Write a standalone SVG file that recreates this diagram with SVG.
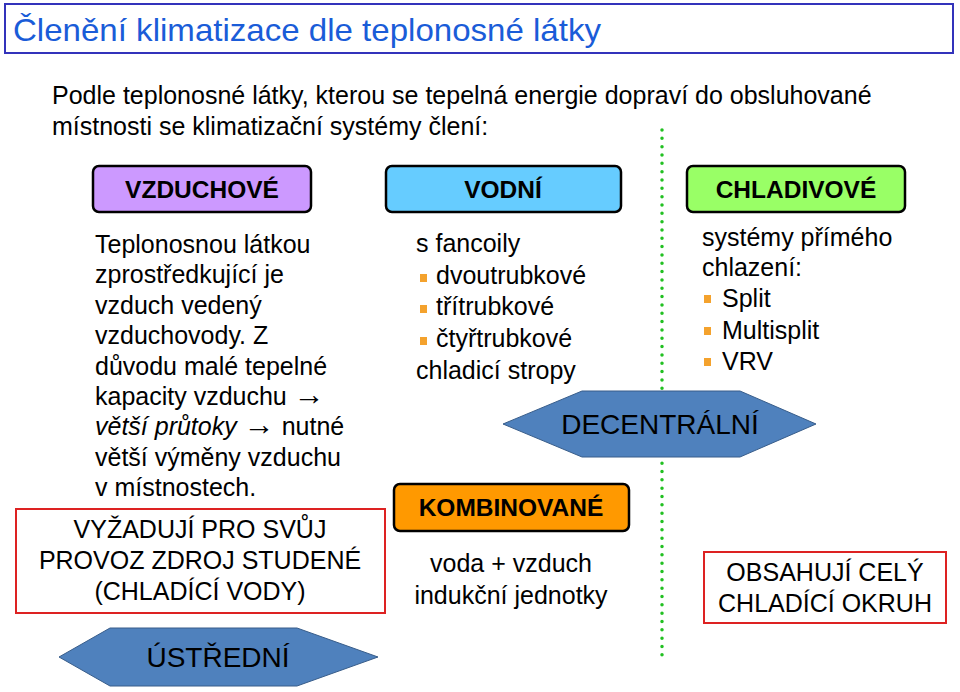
<svg xmlns="http://www.w3.org/2000/svg" width="960" height="692" viewBox="0 0 960 692">
<style>
text{font-family:"Liberation Sans",Arial,sans-serif;fill:#000}
.t{font-size:25px}
.hdr{font-size:24.5px;font-weight:bold;text-anchor:middle}
.box{stroke:#000;stroke-width:2.5}
.red{fill:#fff;stroke:#dd2222;stroke-width:2}
.hex{fill:#4f81bd;stroke:#385d8a;stroke-width:1}
.big{font-size:28px;text-anchor:middle}
.c{text-anchor:middle}
.b{fill:#f4a22d}
.ar{font-size:31px}
</style>
<rect width="960" height="692" fill="#fff"/>
<g id="title">
<rect x="5" y="4" width="948" height="49" fill="#fff" stroke="#3333bb" stroke-width="2"/>
<text x="13" y="41" style="font-size:32px;fill:#1a5cd8" textLength="588" lengthAdjust="spacingAndGlyphs">Členění klimatizace dle teplonosné látky</text>
</g>
<g id="intro">
<text x="52" y="104" class="t">Podle teplonosné látky, kterou se tepelná energie dopraví do obsluhované</text>
<text x="52" y="135" class="t">místnosti se klimatizační systémy člení:</text>
</g>
<g id="connectors">
<line x1="662" y1="130" x2="662" y2="662" stroke="#22c022" stroke-width="3.5" stroke-linecap="round" stroke-dasharray="0 8.33"/>
</g>
<g id="vzduchove">
<rect x="93" y="166" width="218" height="46" rx="6" fill="#cc99ff" class="box"/>
<text x="202" y="198" class="hdr">VZDUCHOVÉ</text>
</g>
<g id="vodni">
<rect x="386" y="166" width="235" height="46" rx="6" fill="#66ccff" class="box"/>
<text x="503" y="198" class="hdr">VODNÍ</text>
</g>
<g id="chladivove">
<rect x="687" y="166" width="218" height="46" rx="6" fill="#99ff66" class="box"/>
<text x="796" y="198" class="hdr">CHLADIVOVÉ</text>
</g>
<g id="vzduchove-text">
<text x="95" y="253" class="t">Teplonosnou látkou</text>
<text x="95" y="283.4" class="t">zprostředkující je</text>
<text x="95" y="313.8" class="t">vzduch vedený</text>
<text x="95" y="344.2" class="t">vzduchovody. Z</text>
<text x="95" y="374.6" class="t">důvodu malé tepelné</text>
<text x="95" y="405" class="t">kapacity vzduchu <tspan class="ar">→</tspan></text>
<text x="95" y="435.4" class="t"><tspan font-style="italic">větší průtoky</tspan> <tspan class="ar">→</tspan>  nutné</text>
<text x="95" y="465.8" class="t">větší výměny vzduchu</text>
<text x="95" y="496.2" class="t">v místnostech.</text>
</g>
<g id="vodni-text">
<text x="416" y="252" class="t">s fancoily</text>
<rect x="420" y="274" width="7" height="8" class="b"/>
<text x="436" y="284" class="t">dvoutrubkové</text>
<rect x="420" y="305" width="7" height="8" class="b"/>
<text x="436" y="315" class="t">třítrubkové</text>
<rect x="420" y="337" width="7" height="8" class="b"/>
<text x="436" y="347" class="t">čtyřtrubkové</text>
<text x="416" y="379" class="t">chladicí stropy</text>
</g>
<g id="chladivove-text">
<text x="702" y="246" class="t">systémy přímého</text>
<text x="702" y="276" class="t">chlazení:</text>
<rect x="704" y="295" width="7" height="8" class="b"/>
<text x="722" y="307" class="t">Split</text>
<rect x="704" y="327" width="7" height="8" class="b"/>
<text x="722" y="339" class="t">Multisplit</text>
<rect x="704" y="358" width="7" height="8" class="b"/>
<text x="722" y="370" class="t">VRV</text>
</g>
<g id="decentralni">
<polygon points="503,424 582,391 740,391 816,424 740,457 582,457" class="hex"/>
<text x="660" y="434" class="big">DECENTRÁLNÍ</text>
</g>
<g id="kombinovane">
<rect x="394" y="484" width="235" height="47" rx="6" fill="#ff9900" class="box"/>
<text x="511" y="516" class="hdr">KOMBINOVANÉ</text>
<text x="511" y="572" class="t c">voda + vzduch</text>
<text x="511" y="604" class="t c">indukční jednotky</text>
</g>
<g id="vyzaduji">
<rect x="16" y="509" width="369" height="104" class="red"/>
<text x="200" y="538" class="t c">VYŽADUJÍ PRO SVŮJ</text>
<text x="200" y="569" class="t c">PROVOZ ZDROJ STUDENÉ</text>
<text x="200" y="600" class="t c">(CHLADÍCÍ VODY)</text>
</g>
<g id="obsahuji">
<rect x="704" y="552" width="242" height="71" class="red"/>
<text x="825" y="581" class="t c">OBSAHUJÍ CELÝ</text>
<text x="825" y="612" class="t c">CHLADÍCÍ OKRUH</text>
</g>
<g id="ustredni">
<polygon points="59,657 110,628 297,628 378,657 297,686 110,686" class="hex"/>
<text x="218" y="667" class="big">ÚSTŘEDNÍ</text>
</g>
</svg>
